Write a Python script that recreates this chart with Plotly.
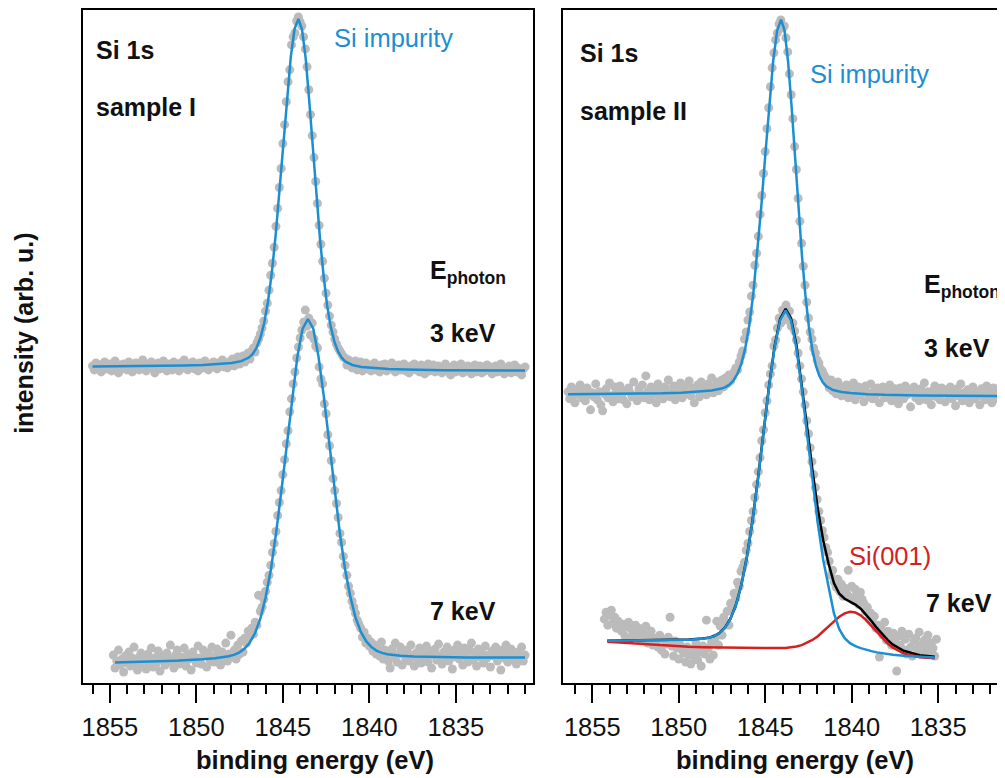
import numpy as np
import plotly.graph_objects as go

# ---------------- data (intensity in arbitrary units, spectra stacked) ----------------
STEP = 0.1  # eV, energy step of the measured spectra

# sample I, 3 keV  (1856.0 -> 1831.0 eV)
S1_3KEV_START = 1856.0
S1_3KEV = [
    318, 314, 321, 316, 319, 312, 317, 322, 315, 318,
    320, 313, 317, 323, 316, 311, 319, 315, 320, 317,
    314, 322, 318, 312, 316, 321, 319, 314, 318, 324,
    317, 313, 320, 316, 322, 318, 311, 317, 321, 315,
    319, 323, 316, 313, 320, 318, 314, 322, 317, 319,
    313, 321, 316, 324, 318, 314, 320, 317, 322, 315,
    319, 313, 321, 318, 316, 323, 319, 314, 320, 317,
    322, 318, 315, 321, 319, 324, 317, 320, 316, 322,
    319, 325, 318, 323, 327, 320, 325, 328, 322, 329,
    331, 325, 333, 336, 332, 341, 345, 350, 356, 363,
    373, 381, 394, 409, 421, 437, 458, 476, 497, 516,
    541, 560, 583, 603, 615, 640, 648, 652, 664, 668,
    663, 659, 648, 636, 618, 595, 570, 549, 527, 503,
    481, 459, 440, 423, 406, 391, 379, 368, 359, 352,
    345, 340, 336, 333, 330, 327, 326, 319, 324, 322,
    316, 321, 323, 314, 319, 322, 313, 318, 321, 315,
    319, 313, 318, 321, 314, 317, 312, 319, 316, 320,
    313, 317, 315, 321, 318, 312, 316, 319, 314, 317,
    320, 313, 316, 311, 318, 315, 320, 314, 317, 312,
    319, 315, 310, 317, 320, 313, 316, 319, 312, 315,
    318, 314, 311, 317, 320, 313, 316, 309, 315, 319,
    312, 317, 314, 320, 311, 316, 313, 318, 315, 310,
    317, 319, 312, 315, 318, 311, 316, 313, 319, 314,
    317, 310, 315, 318, 312, 316, 320, 313, 310, 316,
    314, 318, 311, 315, 319, 312, 316, 313, 309, 315,
    317,
]

# sample I, 7 keV  (1854.8 -> 1831.0 eV)
S1_7KEV_START = 1854.8
S1_7KEV = [
    28, 15, 22, 33, 18, 24, 11, 27, 20, 31,
    17, 25, 36, 21, 13, 26, 30, 19, 24, 14,
    29, 22, 35, 16, 25, 20, 32, 12, 27, 23,
    18, 30, 24, 38, 21, 15, 28, 33, 19, 26,
    22, 35, 17, 29, 24, 13, 31, 26, 20, 37,
    25, 19, 33, 28, 16, 30, 23, 36, 21, 27,
    34, 24, 18, 31, 27, 40, 22, 29, 48, 26,
    33, 24, 38, 29, 42, 31, 45, 40, 52, 47,
    55, 49, 61, 58, 88, 72, 76, 84, 92, 101,
    108, 118, 131, 140, 152, 168, 181, 193, 209, 224,
    240, 253, 272, 285, 300, 312, 326, 337, 346, 354,
    362, 374, 358, 366, 349, 361, 345, 338, 336, 317,
    305, 300, 280, 270, 249, 238, 223, 205, 193, 180,
    166, 150, 141, 127, 118, 108, 97, 90, 82, 76,
    70, 63, 59, 55, 46, 51, 40, 45, 37, 41,
    32, 38, 29, 36, 27, 41, 24, 33, 30, 22,
    15, 34, 27, 40, 21, 29, 36, 18, 31, 25,
    33, 22, 38, 27, 17, 30, 24, 35, 20, 29,
    26, 37, 21, 32, 15, 28, 34, 23, 39, 27,
    19, 31, 25, 36, 22, 29, 14, 33, 26, 38,
    24, 30, 18, 35, 27, 21, 33, 40, 23, 29,
    17, 34, 26, 31, 20, 37, 25, 28, 16, 32,
    27, 36, 22, 30, 13, 33, 25, 38, 21, 29,
    34, 23, 28, 19, 31, 26, 36, 22, 28,
]

# sample II, 3 keV  (1856.4 -> 1831.1 eV)
S2_3KEV_START = 1856.4
S2_3KEV = [
    292, 285, 297, 288, 281, 294, 290, 299, 286, 293,
    283, 296, 289, 274, 291, 287, 300, 284, 292, 279,
    273, 290, 295, 286, 301, 288, 282, 297, 291, 285,
    298, 289, 284, 293, 280, 296, 291, 287, 302, 288,
    283, 295, 290, 299, 286, 308, 292, 284, 297, 289,
    294, 281, 300, 288, 293, 285, 297, 290, 304, 287,
    292, 298, 284, 295, 289, 301, 286, 293, 299, 290,
    303, 288, 296, 281, 294, 299, 287, 302, 292, 297,
    289, 300, 294, 306, 291, 297, 302, 293, 299, 304,
    297, 306, 300, 309, 303, 307, 312, 316, 314, 322,
    328, 333, 345, 352, 364, 372, 388, 399, 419, 431,
    448, 470, 489, 511, 533, 556, 577, 598, 617, 632,
    645, 652, 661, 665, 657, 659, 647, 633, 611, 590,
    566, 538, 515, 486, 463, 441, 418, 399, 382, 366,
    352, 345, 336, 331, 324, 321, 315, 313, 309, 306,
    301, 296, 304, 293, 299, 290, 302, 295, 288, 297,
    292, 299, 286, 295, 290, 301, 284, 293, 297, 289,
    294, 282, 298, 291, 287, 300, 285, 293, 289, 296,
    281, 292, 297, 286, 294, 290, 299, 283, 291, 295,
    288, 280, 296, 291, 285, 298, 289, 294, 277, 292,
    297, 286, 290, 283, 295, 289, 301, 284, 292, 287,
    279, 293, 298, 287, 290, 284, 296, 291, 282, 294,
    289, 297, 285, 292, 278, 295, 288, 300, 283, 291,
    286, 294, 281, 290, 297, 285, 292, 288, 279, 295,
    290, 284, 298, 287, 293, 281, 296, 289, 285, 292,
    288, 295, 283, 291,
]

# sample II, 7 keV  (1854.3 -> 1835.1 eV)
S2_7KEV_START = 1854.3
S2_7KEV = [
    64, 71, 58, 68, 73, 60, 66, 55, 62, 57,
    52, 59, 47, 56, 61, 44, 53, 49, 58, 46,
    55, 43, 51, 48, 57, 40, 46, 52, 38, 45,
    41, 36, 48, 33, 44, 29, 39, 46, 66, 37,
    27, 42, 35, 24, 38, 33, 30, 21, 36, 28,
    19, 34, 26, 40, 23, 31, 17, 37, 29, 63,
    35, 24, 41, 28, 45, 62, 38, 57, 48, 66,
    61, 72, 58, 80, 76, 90, 85, 101, 97, 112,
    116, 121, 133, 140, 152, 163, 172, 186, 199, 212,
    226, 243, 254, 271, 283, 299, 310, 318, 338, 344,
    356, 366, 361, 374, 368, 379, 364, 373, 358, 361,
    353, 344, 331, 318, 305, 292, 279, 263, 250, 236,
    222, 209, 196, 184, 172, 163, 153, 146, 136, 131,
    122, 108, 113, 101, 96, 104, 92, 99, 87, 95,
    90, 113, 86, 97, 83, 94, 88, 79, 91, 84,
    80, 72, 76, 64, 70, 61, 67, 55, 58, 26,
    55, 48, 61, 43, 52, 46, 38, 50, 41, 12,
    47, 38, 52, 33, 44, 29, 49, 36, 27, 42,
    45, 34, 51, 38, 29, 43, 36, 48, 31, 40,
    35, 27, 44,
]

# fitted curves
FIT_S1_3KEV_E = [1856.0, 1855.0, 1852.9, 1850.7, 1849.6, 1848.5, 1847.95, 1847.4, 1847.18, 1846.96,
                 1846.74, 1846.52, 1846.3, 1846.08, 1845.86, 1845.64, 1845.42, 1845.2, 1844.98, 1844.76,
                 1844.54, 1844.32, 1844.1, 1843.89, 1843.68, 1843.48, 1843.27, 1843.06, 1842.85, 1842.64,
                 1842.44, 1842.23, 1842.02, 1841.81, 1841.60, 1841.40, 1841.19, 1840.98, 1840.46, 1839.94,
                 1838.9, 1837.86, 1835.78, 1831.0]
FIT_S1_3KEV = [317.4, 317.5, 317.8, 318.4, 319.0, 320.1, 320.9, 322.8, 324.2, 326.4,
               330.1, 336.2, 346.0, 360.8, 382.1, 411.1, 448.1, 491.8, 539.7, 587.1,
               628.0, 656.1, 666.0, 655.5, 626.8, 585.3, 537.5, 489.2, 445.1, 407.9,
               378.7, 357.2, 342.4, 332.6, 326.4, 322.6, 320.4, 319.0, 317.0, 316.1,
               315.0, 314.4, 313.8, 313.4]

FIT_S1_7KEV_E = [1854.7, 1852.73, 1851.2, 1849.67, 1848.91, 1848.14, 1847.83, 1847.53, 1847.22, 1846.92,
                 1846.61, 1846.30, 1846.0, 1845.69, 1845.39, 1845.08, 1844.77, 1844.47, 1844.16, 1843.86,
                 1843.55, 1843.24, 1842.94, 1842.63, 1842.33, 1842.02, 1841.71, 1841.41, 1841.10, 1840.80,
                 1840.49, 1840.18, 1839.88, 1839.57, 1839.27, 1838.96, 1838.20, 1837.43, 1835.9, 1834.37,
                 1831.31, 1831.0]
FIT_S1_7KEV = [20.5, 21.4, 22.4, 23.7, 24.8, 26.8, 28.2, 30.5, 34.3, 40.4,
               49.9, 64.5, 85.5, 113.9, 150.3, 193.3, 240.3, 286.9, 327.3, 355.1,
               365.1, 355.3, 327.6, 287.3, 240.9, 194.0, 151.1, 114.9, 86.6, 65.7,
               51.3, 41.9, 36.0, 32.3, 30.2, 28.9, 27.3, 26.5, 25.9, 25.6,
               25.7, 25.7]

FIT_S2_3KEV_E = [1856.4, 1853.28, 1850.98, 1849.83, 1848.68, 1848.11, 1847.53, 1847.3, 1847.07, 1846.84,
                 1846.61, 1846.38, 1846.15, 1845.92, 1845.69, 1845.46, 1845.23, 1845.0, 1844.77, 1844.54,
                 1844.31, 1844.08, 1843.88, 1843.68, 1843.48, 1843.28, 1843.08, 1842.88, 1842.68, 1842.48,
                 1842.28, 1842.08, 1841.88, 1841.68, 1841.48, 1841.28, 1841.08, 1840.58, 1840.08, 1839.08,
                 1838.08, 1836.08, 1831.1]
FIT_S2_3KEV = [289.5, 289.9, 290.5, 291.2, 292.3, 293.3, 295.3, 296.8, 299.2, 303.3,
               309.9, 320.3, 336.2, 359.1, 390.4, 430.1, 477.3, 528.8, 579.9, 624.1,
               654.5, 665.3, 654.2, 623.6, 579.2, 527.9, 476.3, 429.0, 389.2, 357.8,
               334.7, 318.8, 308.4, 301.8, 297.7, 295.3, 293.8, 291.8, 290.8, 289.7,
               289.0, 288.4, 287.8]

FIT_S2_7KEV_E = [1854.13, 1853.42, 1851.82, 1850.22, 1849.42, 1848.62, 1848.30, 1847.98, 1847.66, 1847.34,
                 1847.02, 1846.70, 1846.38, 1846.06, 1845.74, 1845.42, 1845.10, 1844.78, 1844.46, 1844.14,
                 1843.82, 1843.51, 1843.20, 1842.89, 1842.58, 1842.27, 1841.96, 1841.65, 1841.34, 1841.03,
                 1840.72, 1840.41, 1840.10, 1839.79, 1839.48, 1839.17, 1838.86, 1838.55, 1838.24, 1837.93,
                 1837.62, 1837.0, 1836.07, 1835.2]
FIT_S2_7KEV_IMPURITY = [42.4, 42.6, 42.5, 43.0, 43.5, 44.4, 45.1, 46.7, 49.7, 55.0,
                        63.9, 77.6, 98.1, 126.2, 162.0, 204.5, 250.9, 296.9, 336.6, 364.0,
                        373.7, 363.6, 335.9, 295.8, 249.5, 202.8, 160.0, 123.7, 95.2, 70.0,
                        54.0, 45.0, 40.0, 37.0, 35.0, 33.2, 32.0, 30.7, 29.7, 29.0,
                        28.3, 27.4, 26.4, 25.6]
FIT_S2_7KEV_SI001 = [41.3, 40.5, 38.8, 37.1, 36.3, 35.9, 35.8, 35.7, 35.6, 35.5,
                     35.4, 35.3, 35.2, 35.1, 35.1, 35.0, 35.0, 34.9, 34.9, 35.0,
                     35.2, 35.7, 36.6, 38.0, 40.3, 43.2, 46.9, 51.6, 56.6, 61.9,
                     66.5, 69.8, 71.4, 70.8, 67.9, 63.0, 57.3, 51.0, 45.1, 39.9,
                     35.5, 29.7, 25.9, 24.7]
FIT_S2_7KEV_SUM = [42.5, 42.7, 42.6, 43.2, 43.7, 44.6, 45.3, 46.9, 50.0, 55.3,
                   64.2, 77.9, 98.5, 126.6, 162.5, 205.0, 251.5, 297.6, 337.5, 365.1,
                   375.2, 365.8, 339.2, 300.7, 256.8, 213.2, 174.3, 143.1, 119.9, 100.3,
                   89.5, 84.5, 81.7, 78.7, 74.5, 68.5, 62.2, 55.2, 48.8, 43.3,
                   38.5, 32.3, 27.9, 26.3]

X_TICKS = [1855, 1850, 1845, 1840, 1835]


def energies(start, values):
    return np.round(start - STEP * np.arange(len(values)), 2)


# ---------------- style ----------------
FONT = "Liberation Sans, Arial, Helvetica, sans-serif"
GRAY = "#bbbbbb"
BLUE = "#1b8fd2"
RED = "#d42020"
BLACK = "#111111"
LW = 2.5

fig = go.Figure()


def dots(x, y, xa, ya):
    fig.add_trace(go.Scatter(x=x, y=y, mode="markers", xaxis=xa, yaxis=ya,
                             marker=dict(size=9, color=GRAY, line=dict(width=0)),
                             hoverinfo="skip", showlegend=False))


def line(x, y, color, xa, ya):
    fig.add_trace(go.Scatter(x=x, y=y, mode="lines", xaxis=xa, yaxis=ya,
                             line=dict(color=color, width=LW),
                             hoverinfo="skip", showlegend=False))


# left panel: sample I
dots(energies(S1_3KEV_START, S1_3KEV), S1_3KEV, "x", "y")
dots(energies(S1_7KEV_START, S1_7KEV), S1_7KEV, "x", "y")
line(FIT_S1_3KEV_E, FIT_S1_3KEV, BLUE, "x", "y")
line(FIT_S1_7KEV_E, FIT_S1_7KEV, BLUE, "x", "y")

# right panel: sample II
dots(energies(S2_3KEV_START, S2_3KEV), S2_3KEV, "x2", "y2")
dots(energies(S2_7KEV_START, S2_7KEV), S2_7KEV, "x2", "y2")
line(FIT_S2_3KEV_E, FIT_S2_3KEV, BLUE, "x2", "y2")
line(FIT_S2_7KEV_E, FIT_S2_7KEV_SUM, "black", "x2", "y2")
line(FIT_S2_7KEV_E, FIT_S2_7KEV_SI001, RED, "x2", "y2")
line(FIT_S2_7KEV_E, FIT_S2_7KEV_IMPURITY, BLUE, "x2", "y2")

base_line = dict(showline=True, linecolor="black", linewidth=2, showgrid=False, zeroline=False)
xcommon = dict(base_line, mirror=True, ticks="outside", ticklen=18, tickwidth=2, tickcolor="black",
               tickmode="array", tickvals=X_TICKS, ticktext=[str(t) for t in X_TICKS],
               tickfont=dict(size=25.5, color=BLACK, family=FONT),
               minor=dict(ticks="outside", ticklen=9, tickwidth=2, tickcolor="black",
                          dtick=1, tick0=1855, showgrid=False),
               ticklabelstandoff=2)
ycommon = dict(base_line, range=[0, 675], showticklabels=False, ticks="")

# page pixel helpers (the page body adds an 8 px offset to the figure)
PX_TOP, PX_BOTTOM, PX_LEFT, PLOT_W = 8, 683, 83, 922


def py(pix):
    return (PX_BOTTOM - pix) / (PX_BOTTOM - PX_TOP)


def px(pix):
    return (pix - PX_LEFT) / PLOT_W


fig.update_layout(
    width=997, height=770,
    margin=dict(l=75, r=0, t=0, b=95),
    paper_bgcolor="white", plot_bgcolor="white",
    font=dict(family=FONT, color=BLACK, size=25),
    xaxis=dict(xcommon, domain=[0, 0.48807], range=[1856.55, 1830.54], anchor="y"),
    yaxis=dict(ycommon, domain=[0, 1], anchor="x", mirror=True),
    xaxis2=dict(xcommon, domain=[0.52061, 1], range=[1856.69, 1831.14], anchor="y2"),
    yaxis2=dict(ycommon, domain=[0, 1], anchor="x2", mirror=False),
    showlegend=False,
)


def label(text, x, y, xref, yref, color=BLACK, size=25, xanchor="left", **kw):
    fig.add_annotation(text=text, x=x, y=y, xref=xref, yref=yref, showarrow=False,
                       xanchor=xanchor, yanchor="middle",
                       font=dict(family=FONT, size=size, color=color), **kw)


# left panel texts
label("<b>Si 1s</b>", 1855.91, 635, "x", "y")
label("<b>sample I</b>", 1855.91, 578, "x", "y")
label("Si impurity", 1842.16, 647, "x", "y", color=BLUE, size=25.5)
label("<b>E<sub>photon</sub></b>", 1836.61, 412, "x", "y")
label("<b>3 keV</b>", 1836.61, 351, "x", "y")
label("<b>7 keV</b>", 1836.61, 72, "x", "y")

# right panel texts
label("<b>Si 1s</b>", 1855.81, 632, "x2", "y2")
label("<b>sample II</b>", 1855.81, 573.5, "x2", "y2")
label("Si impurity", 1842.51, 610.5, "x2", "y2", color=BLUE, size=25.5)
label("<b>E<sub>photon</sub></b>", 1835.96, 398, "x2", "y2")
label("<b>3 keV</b>", 1835.96, 336.5, "x2", "y2")
label("<b>7 keV</b>", 1835.82, 80, "x2", "y2")
label("Si(001)", 1840.29, 127, "x2", "y2", color=RED, size=25.5)

# axis titles
label("<b>binding energy (eV)</b>", 1843.14, py(760.5), "x", "paper", xanchor="center", size=25.5)
label("<b>binding energy (eV)</b>", 1843.28, py(760.5), "x2", "paper", xanchor="center", size=25.5)
label("<b>intensity (arb. u.)</b>", px(23.3), py(332.5), "paper", "paper", xanchor="center",
      textangle=-90, size=25)

fig.write_html("out.html")
